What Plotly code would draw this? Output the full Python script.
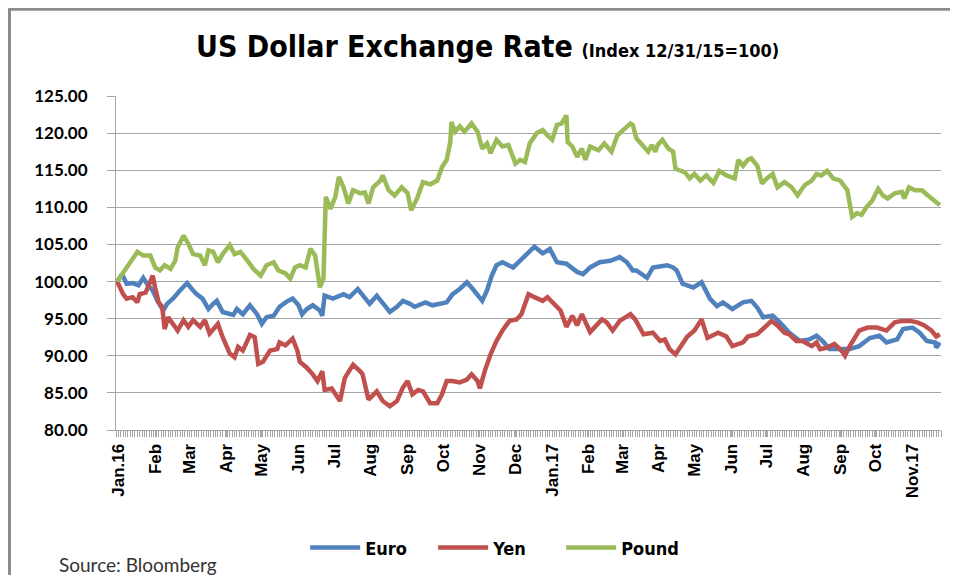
import pandas as pd
import plotly.graph_objects as go

# ---- data (days since 2015-12-31, index value) ----
euro_days = [0, 4, 8, 13, 18, 22, 26, 30, 34, 39, 42, 47, 53, 59, 63, 67, 72, 77, 81, 84, 89, 98, 101, 106, 112,
             118, 122, 126, 132, 137, 143, 148, 153, 156, 160, 165, 171, 173, 175, 182, 191, 196, 203, 209, 213,
             219, 224, 230, 236, 241, 247, 251, 260, 266, 278, 283, 289, 295, 300, 308, 312, 316, 320, 325, 334,
             340, 348, 352, 359, 365, 371, 379, 388, 393, 399, 407, 416, 424, 430, 435, 438, 447, 452, 458, 464,
             469, 472, 477, 486, 493, 500, 506, 511, 519, 528, 535, 540, 545, 553, 559, 567, 576, 584, 590, 595,
             601, 610, 618, 626, 635, 643, 649, 658, 663, 671, 677, 683, 690, 691, 694]
euro_vals = [100.0, 101.0, 99.7, 99.8, 99.5, 100.5, 99.5, 98.8, 97.4, 96.1, 97.0, 97.7, 98.8, 99.8, 99.0, 98.3,
             97.7, 96.3, 97.0, 97.4, 95.9, 95.5, 96.3, 95.6, 96.8, 95.6, 94.3, 95.2, 95.4, 96.6, 97.3, 97.7, 96.8,
             95.6, 96.3, 96.8, 96.1, 95.4, 98.1, 97.7, 98.3, 97.9, 99.0, 97.9, 97.0, 98.1, 97.0, 95.9, 96.6, 97.4,
             97.0, 96.6, 97.2, 96.8, 97.2, 98.3, 99.0, 99.9, 99.0, 97.4, 98.8, 100.8, 102.2, 102.6, 101.9, 102.8,
             104.2, 104.7, 103.8, 104.4, 102.6, 102.4, 101.3, 101.0, 101.9, 102.6, 102.8, 103.3, 102.6, 101.5,
             101.5, 100.5, 101.9, 102.0, 102.2, 101.9, 101.5, 99.7, 99.2, 99.9, 97.7, 96.7, 97.2, 96.3, 97.2, 97.4,
             96.5, 95.2, 95.4, 94.5, 93.1, 92.0, 92.2, 92.7, 92.0, 90.9, 90.9, 90.9, 91.3, 92.4, 92.7, 91.8, 92.2,
             93.6, 93.8, 93.1, 92.0, 91.8, 91.1, 91.8]

yen_days = [0, 5, 8, 13, 17, 19, 24, 26, 30, 32, 35, 38, 40, 43, 46, 51, 56, 60, 64, 70, 74, 78, 85, 89, 95, 99,
            102, 106, 112, 116, 119, 123, 129, 135, 137, 142, 148, 152, 154, 160, 165, 169, 173, 175, 181, 188,
            192, 199, 205, 207, 212, 219, 224, 230, 236, 241, 245, 249, 254, 258, 264, 270, 274, 278, 283, 289,
            295, 299, 304, 306, 310, 315, 320, 325, 331, 337, 341, 347, 352, 359, 363, 369, 374, 379, 384, 388,
            392, 399, 405, 409, 413, 418, 424, 433, 437, 444, 452, 458, 462, 466, 471, 476, 481, 487, 493, 498,
            507, 514, 519, 528, 532, 540, 545, 552, 557, 563, 567, 573, 578, 586, 590, 593, 599, 605, 611, 614,
            618, 626, 633, 641, 649, 656, 662, 669, 675, 681, 687, 691, 694]
yen_vals = [100.0, 98.3, 97.7, 97.9, 97.2, 98.3, 98.5, 99.2, 100.8, 99.2, 97.2, 96.6, 93.6, 95.2, 94.5, 93.4, 94.8,
            93.9, 94.8, 93.9, 94.8, 93.0, 94.3, 92.5, 90.3, 89.8, 91.2, 90.7, 92.8, 92.5, 88.9, 89.2, 90.7, 90.9,
            91.8, 91.4, 92.3, 90.7, 89.2, 88.4, 87.5, 86.6, 87.9, 85.4, 85.6, 83.9, 87.0, 88.8, 87.9, 87.5, 84.1,
            85.2, 83.9, 83.2, 83.9, 85.7, 86.6, 84.8, 85.4, 85.2, 83.6, 83.6, 84.8, 86.6, 86.6, 86.4, 86.8, 87.5,
            86.6, 85.6, 87.9, 90.2, 92.0, 93.4, 94.7, 94.9, 95.6, 98.3, 97.9, 97.4, 97.9, 97.0, 96.1, 93.9, 95.4,
            94.1, 95.6, 93.2, 94.3, 94.9, 94.5, 93.4, 94.7, 95.6, 94.9, 92.9, 93.1, 92.0, 92.2, 90.9, 90.2, 91.3,
            92.6, 93.4, 94.9, 92.4, 93.1, 92.6, 91.3, 91.8, 92.6, 92.9, 93.6, 94.7, 94.1, 93.1, 92.9, 92.0, 92.0,
            91.3, 91.8, 90.9, 91.1, 91.6, 90.7, 90.0, 91.3, 93.4, 93.8, 93.8, 93.4, 94.5, 94.7, 94.7, 94.5, 94.1,
            93.4, 92.6, 92.9]

pound_days = [0, 7, 13, 17, 22, 28, 32, 36, 40, 45, 49, 51, 56, 60, 64, 70, 74, 77, 81, 85, 89, 95, 99, 104, 110,
              115, 121, 126, 132, 136, 142, 146, 150, 154, 159, 163, 167, 171, 174, 176, 180, 184, 187, 191, 195,
              199, 205, 209, 212, 216, 222, 224, 229, 234, 240, 245, 248, 253, 258, 264, 270, 274, 278, 281, 282,
              285, 289, 293, 299, 304, 308, 312, 315, 320, 325, 330, 336, 340, 344, 348, 354, 359, 363, 367, 371,
              375, 379, 380, 384, 388, 392, 395, 399, 406, 411, 417, 422, 427, 433, 435, 438, 443, 448, 451, 454,
              456, 460, 465, 469, 471, 475, 479, 483, 487, 492, 497, 503, 508, 514, 521, 524, 528, 532, 535, 540,
              544, 548, 553, 557, 563, 569, 574, 580, 586, 590, 594, 599, 604, 610, 616, 620, 624, 628, 632, 637,
              642, 646, 650, 656, 662, 664, 668, 673, 679, 684, 690, 694]
pound_vals = [100.0, 101.7, 103.1, 104.0, 103.5, 103.5, 101.9, 101.5, 102.2, 101.7, 102.8, 104.6, 106.2, 105.1,
              103.7, 103.5, 102.2, 104.2, 104.0, 102.6, 103.7, 104.9, 103.7, 104.0, 102.8, 101.7, 100.8, 102.2,
              102.6, 101.5, 101.1, 100.4, 101.9, 102.2, 101.9, 104.4, 103.5, 99.2, 100.4, 111.4, 109.8, 111.4,
              114.1, 112.7, 110.5, 112.3, 111.9, 112.0, 110.5, 112.7, 113.6, 114.3, 112.3, 111.6, 112.7, 111.9,
              109.6, 111.2, 113.4, 113.1, 113.6, 115.4, 116.4, 118.8, 121.5, 120.2, 120.9, 120.2, 121.3, 120.2,
              117.9, 118.6, 117.3, 119.1, 118.2, 118.4, 115.9, 116.4, 116.1, 118.6, 120.0, 120.4, 119.7, 119.1,
              121.1, 121.3, 122.4, 118.8, 118.2, 116.8, 117.9, 116.4, 118.2, 117.7, 118.6, 117.5, 119.7, 120.4,
              121.3, 121.1, 119.3, 118.4, 117.5, 118.4, 117.5, 118.4, 119.1, 117.9, 117.5, 115.2, 114.9, 114.7,
              113.9, 114.5, 113.6, 114.3, 113.3, 114.9, 114.3, 113.9, 116.4, 115.6, 116.4, 116.6, 115.6, 113.2,
              113.9, 114.5, 112.7, 113.4, 112.7, 111.6, 113.0, 113.6, 114.5, 114.3, 114.9, 113.9, 113.6, 112.3,
              108.7, 109.2, 109.0, 110.0, 110.9, 112.5, 111.6, 111.2, 111.9, 112.1, 111.2, 112.7, 112.3, 112.3,
              111.6, 110.7, 110.3]

tick_dates = ["2016-01-01", "2016-02-01", "2016-03-01", "2016-04-01", "2016-05-01", "2016-06-01", "2016-07-01",
              "2016-08-01", "2016-09-01", "2016-10-01", "2016-11-01", "2016-12-01", "2017-01-01", "2017-02-01",
              "2017-03-01", "2017-04-01", "2017-05-01", "2017-06-01", "2017-07-01", "2017-08-01", "2017-09-01",
              "2017-10-01", "2017-11-01"]
tick_labels = ["Jan.16", "Feb", "Mar", "Apr", "May", "Jun", "Jul", "Aug", "Sep", "Oct", "Nov", "Dec", "Jan.17",
               "Feb", "Mar", "Apr", "May", "Jun", "Jul", "Aug", "Sep", "Oct", "Nov.17"]

base = pd.Timestamp("2015-12-31")


def to_dates(days):
    return [base + pd.Timedelta(days=d) for d in days]


NARROW = "Liberation Sans Narrow, Arial Narrow, DejaVu Sans Condensed, Liberation Sans, sans-serif"
GRID = "#a6a6a6"

fig = go.Figure()
fig.add_trace(go.Scatter(x=to_dates(euro_days), y=euro_vals, name="Euro", mode="lines",
                         line=dict(color="#4f81bd", width=4.5)))
fig.add_trace(go.Scatter(x=to_dates(yen_days), y=yen_vals, name="Yen", mode="lines",
                         line=dict(color="#c0504d", width=4.5)))
fig.add_trace(go.Scatter(x=to_dates(pound_days), y=pound_vals, name="Pound", mode="lines",
                         line=dict(color="#9bbb59", width=4.5)))

# The page body adds an 8px offset; the figure is sized so it fits the 958x575 window.
fig.update_layout(
    width=950, height=567,
    margin=dict(l=108, r=17, t=88, b=145, autoexpand=False),
    paper_bgcolor="white", plot_bgcolor="white",
    showlegend=True,
    legend=dict(orientation="h", x=0.462, y=-0.353, xanchor="center", yanchor="middle",
                font=dict(family=NARROW, size=18, color="black", weight="bold"),
                itemwidth=50, entrywidth=63, tracegroupgap=0),
)

fig.update_xaxes(
    type="date",
    range=[base - pd.Timedelta(days=1), base + pd.Timedelta(days=695)],
    tickmode="array", tickvals=tick_dates, ticktext=tick_labels,
    tickangle=-90,
    tickfont=dict(family="Liberation Sans, Arial, sans-serif", size=17, color="black", weight="bold"),
    showgrid=False, showline=True, linecolor=GRID, linewidth=1,
    ticks="outside", ticklen=6, tickcolor=GRID,
    minor=dict(ticks="outside", ticklen=6, tickcolor=GRID, dtick=2 * 86400000, showgrid=False),
    zeroline=False,
)
fig.update_yaxes(
    range=[80, 125], dtick=5, tick0=80, tickformat=".2f",
    tickfont=dict(family="Lato, Carlito, Liberation Sans, sans-serif", size=17, color="black", weight="bold"),
    showgrid=True, gridcolor=GRID, gridwidth=1,
    showline=True, linecolor=GRID, linewidth=1,
    ticks="outside", ticklen=8, tickcolor=GRID,
    ticklabelstandoff=16,
    zeroline=False,
)

# title
fig.add_annotation(
    xref="paper", yref="paper", x=0.45, y=1.147, xanchor="center", yanchor="middle", showarrow=False,
    text="<b>US Dollar Exchange Rate</b> <b><span style='font-size:18px'>(Index 12/31/15=100)</span></b>",
    font=dict(family=NARROW, size=30, color="black"),
)
# source
fig.add_annotation(
    xref="paper", yref="paper", x=-0.0715, y=-0.402, xanchor="left", yanchor="middle", showarrow=False,
    text="Source: Bloomberg",
    font=dict(family="Lato, Carlito, Liberation Sans, sans-serif", size=19, color="#333333"),
)
# outer frame (top and left edges)
fig.add_shape(type="line", xref="paper", yref="paper", x0=-0.131, x1=1.03, y0=1.26, y1=1.26,
              line=dict(color="#8c8c8c", width=3))
fig.add_shape(type="line", xref="paper", yref="paper", x0=-0.1291, x1=-0.1291, y0=1.26, y1=-0.5,
              line=dict(color="#8c8c8c", width=3))

fig.write_html("out.html")
